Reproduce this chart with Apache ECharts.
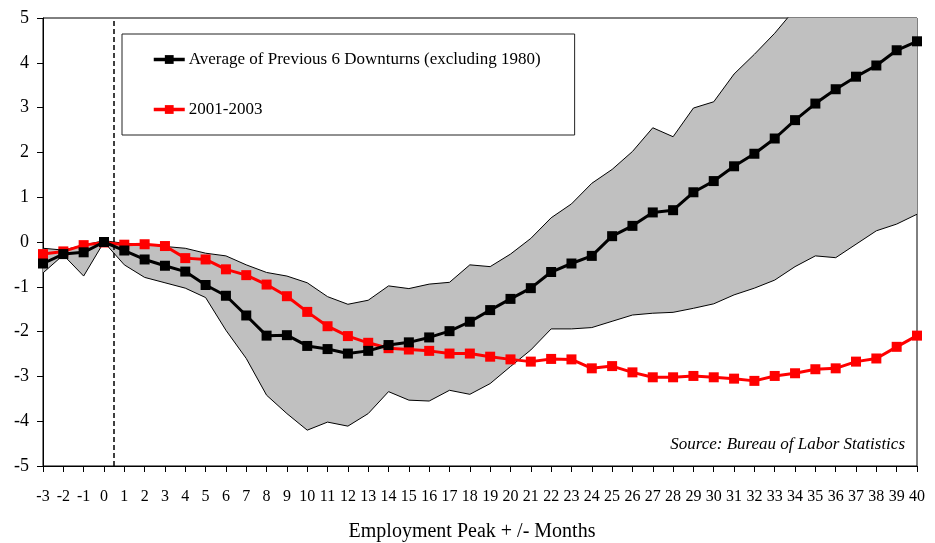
<!DOCTYPE html>
<html><head><meta charset="utf-8">
<script src="https://cdn.jsdelivr.net/npm/echarts@6/dist/echarts.min.js"></script>
<style>html,body{margin:0;padding:0;background:#fff}#c{width:935px;height:543px}</style>
</head><body><div id="c"></div>
<script>
const months = [-3,-2,-1,0,1,2,3,4,5,6,7,8,9,10,11,12,13,14,15,16,17,18,19,20,21,22,23,24,25,26,27,28,29,30,31,32,33,34,35,36,37,38,39,40];
const avgPrev6 = [-0.48,-0.27,-0.23,0,-0.19,-0.39,-0.53,-0.66,-0.96,-1.2,-1.64,-2.09,-2.08,-2.32,-2.39,-2.49,-2.43,-2.3,-2.24,-2.13,-1.99,-1.78,-1.52,-1.27,-1.03,-0.67,-0.48,-0.31,0.13,0.36,0.66,0.71,1.11,1.36,1.69,1.97,2.31,2.72,3.09,3.41,3.69,3.94,4.28,4.48];
const y2001 = [-0.27,-0.21,-0.07,-0.01,-0.06,-0.05,-0.09,-0.36,-0.39,-0.61,-0.74,-0.95,-1.21,-1.56,-1.88,-2.1,-2.25,-2.37,-2.4,-2.43,-2.49,-2.49,-2.56,-2.62,-2.67,-2.61,-2.62,-2.82,-2.77,-2.91,-3.02,-3.02,-2.99,-3.02,-3.05,-3.1,-2.99,-2.93,-2.84,-2.82,-2.67,-2.6,-2.34,-2.09];
const bandHigh = [-0.14,-0.18,-0.07,0.03,-0.03,-0.05,-0.1,-0.14,-0.25,-0.31,-0.51,-0.68,-0.76,-0.91,-1.22,-1.39,-1.3,-0.98,-1.04,-0.94,-0.9,-0.51,-0.55,-0.27,0.08,0.54,0.85,1.31,1.62,2.02,2.55,2.35,2.99,3.13,3.75,4.19,4.66,5.2,5.7,6.1,6.6,7.0,7.4,7.9];
const bandLow = [-0.69,-0.29,-0.76,0,-0.51,-0.79,-0.91,-1.03,-1.24,-1.97,-2.6,-3.42,-3.83,-4.2,-4.02,-4.11,-3.83,-3.34,-3.53,-3.55,-3.31,-3.4,-3.16,-2.78,-2.41,-1.94,-1.94,-1.91,-1.77,-1.63,-1.59,-1.57,-1.48,-1.38,-1.18,-1.03,-0.85,-0.55,-0.31,-0.35,-0.05,0.25,0.4,0.62];
const yTicks = [-5,-4,-3,-2,-1,0,1,2,3,4,5];
const peakLine = 0.5;

const serif = '"Liberation Serif","Times New Roman",serif';
const cats = months.map(String);

const chart = echarts.init(document.getElementById('c'), null, {renderer:'canvas'});
chart.setOption({
  animation:false,
  backgroundColor:'#fff',
  textStyle:{fontFamily:serif},
  grid:{left:43,right:18,top:18,bottom:77,outerBoundsMode:'none',containLabel:false,show:true,borderColor:'#000',borderWidth:1,backgroundColor:'transparent'},
  legend:{
    data:['Average of Previous 6 Downturns (excluding 1980)','2001-2003'],
    orient:'vertical', left:122, top:34,
    padding:[17,34,17,30], itemGap:33, itemWidth:31, itemHeight:11,
    borderColor:'#222', borderWidth:1, backgroundColor:'#fff',
    lineStyle:{width:3.5},
    textStyle:{fontFamily:serif,fontSize:17,color:'#000',padding:[0,0,0,-1]},
    selectedMode:false
  },
  xAxis:[{type:'category',data:cats,boundaryGap:false,
    name:'Employment Peak + /- Months',nameLocation:'middle',nameGap:56,
    nameTextStyle:{fontFamily:serif,fontSize:20,color:'#000',padding:[0,16,0,0]},
    axisLine:{onZero:false,lineStyle:{color:'#000',width:1}},
    axisTick:{show:true,interval:0,length:6,lineStyle:{color:'#000'}},
    axisLabel:{interval:0,margin:23,fontFamily:serif,fontSize:16,color:'#000',hideOverlap:false},
    splitLine:{show:false}},
   {type:'value',min:months[0],max:months[months.length-1],show:false,position:'bottom'}],
  yAxis:{type:'value',min:yTicks[0],max:yTicks[yTicks.length-1],interval:1,
    axisLine:{show:true,onZero:false,lineStyle:{color:'#000',width:1}},
    axisTick:{show:true,length:6,lineStyle:{color:'#000'}},
    axisLabel:{margin:14,fontFamily:serif,fontSize:18,color:'#000'},
    splitLine:{show:false}},
  series:[
    {name:'bandBase',type:'line',stack:'band',stackStrategy:'all',data:bandLow,symbol:'none',lineStyle:{width:0,opacity:0},silent:true,z:1},
    {name:'bandFill',type:'line',stack:'band',stackStrategy:'all',data:bandHigh.map((v,i)=>v-bandLow[i]),symbol:'none',lineStyle:{width:0,opacity:0},areaStyle:{color:'#c0c0c0',opacity:1},silent:true,z:1},
    {name:'bandHigh',type:'line',data:bandHigh,symbol:'none',lineStyle:{color:'#000',width:1},silent:true,z:2},
    {name:'bandLow',type:'line',data:bandLow,symbol:'none',lineStyle:{color:'#000',width:1},silent:true,z:2},
    {name:'peak',type:'line',xAxisIndex:1,data:[[peakLine,yTicks[0]]],symbol:'none',lineStyle:{width:0},silent:true,z:2,
      markLine:{silent:true,symbol:['none','none'],label:{show:false},lineStyle:{color:'#000',type:[5,3],width:1.5},data:[{xAxis:peakLine}]}},
    {name:'2001-2003',type:'line',data:y2001,symbol:'rect',symbolSize:10,itemStyle:{color:'#ff0000'},lineStyle:{color:'#ff0000',width:3},z:3},
    {name:'Average of Previous 6 Downturns (excluding 1980)',type:'line',data:avgPrev6,symbol:'rect',symbolSize:10,itemStyle:{color:'#000'},lineStyle:{color:'#000',width:3},z:4}
  ],
  graphic:[{type:'text',right:30,top:436,style:{text:'Source: Bureau of Labor Statistics',font:'italic 17px '+serif,fill:'#000',textAlign:'right'}}]
});
</script></body></html>
